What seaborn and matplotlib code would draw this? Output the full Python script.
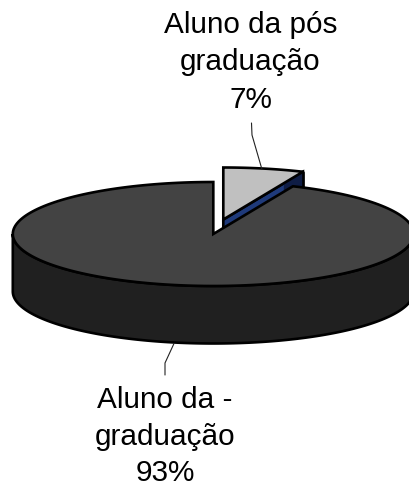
import numpy as np
import matplotlib
matplotlib.use("Agg")
import matplotlib.pyplot as plt
import seaborn as sns

categories = ["Aluno da -\ngraduação", "Aluno da pós\ngraduação"]
shares = [93.5, 6.5]          # slice sizes
share_labels = ["93%", "7%"]

sns.set_theme(style="white")
plt.rcParams["font.family"] = ["Liberation Sans", "DejaVu Sans"]
top_main, side_main, top_small, cut_small, cut_dark = sns.color_palette(
    ["#434343", "#202020", "#c0c0c0", "#1f3a7a", "#0f1d45"])

W, H = 410, 486
fig = plt.figure(figsize=(W / 100, H / 100), dpi=100)
ax = fig.add_axes([0, 0, 1, 1])
ax.set_xlim(0, W)
ax.set_ylim(H, 0)
ax.axis("off")

CX, CY, RX, RY, DEPTH = 213.3, 234.0, 200.5, 52.0, 57.5
DX, DY = 10.0, -14.5
LW = 1.9
EDGE = dict(edgecolor="black", linewidth=LW, joinstyle="miter")


def rim(a0, a1, cx=CX, cy=CY, n=200):
    t = np.radians(np.linspace(a0, a1, n))
    return cx + RX * np.sin(t), cy - RY * np.cos(t)


split = 360 * shares[1] / sum(shares)

# exploded small slice: cut face first, main slice covers most of it
sx, sy = CX + DX, CY + DY
ex, ey = sx + RX * np.sin(np.radians(split)), sy - RY * np.cos(np.radians(split))
ax.fill([sx, ex, ex, sx], [sy, ey, ey + DEPTH, sy + DEPTH], facecolor=cut_small, zorder=1, **EDGE)
fx, fy = sx + 0.76 * (ex - sx), sy + 0.76 * (ey - sy)
ax.fill([fx, ex, ex, fx], [fy, ey, ey + DEPTH, fy + DEPTH], facecolor=cut_dark, linewidth=0, zorder=1.1)
ax.plot([ex, ex], [ey, ey + DEPTH], color="black", lw=LW, zorder=1.2)
x, y = rim(0, split, sx, sy)
ax.fill(np.r_[sx, x], np.r_[sy, y], facecolor=top_small, zorder=1.3, **EDGE)

# main slice: side wall, then top
x, y = rim(90, 270)
ax.fill(np.r_[x, x[::-1]], np.r_[y, y[::-1] + DEPTH], facecolor=side_main, zorder=2, **EDGE)
x, y = rim(split, 360)
ax.fill(np.r_[CX, x], np.r_[CY, y], facecolor=top_main, zorder=2.1, **EDGE)

# leader lines
ax.plot([262, 252, 251.5], [169.5, 135, 123], color="#222222", lw=0.8, zorder=3)
ax.plot([174, 165, 165], [343.5, 363, 375], color="#222222", lw=0.8, zorder=3)

# labels
ax.text(250.5, 62.5, f"{categories[1]}\n{share_labels[1]}", ha="center", va="center",
        fontsize=21.4, color="black", linespacing=1.41)
ax.text(165, 436.5, f"{categories[0]}\n{share_labels[0]}", ha="center", va="center",
        fontsize=21.4, color="black", linespacing=1.37)

fig.savefig("out.png", dpi=100)
